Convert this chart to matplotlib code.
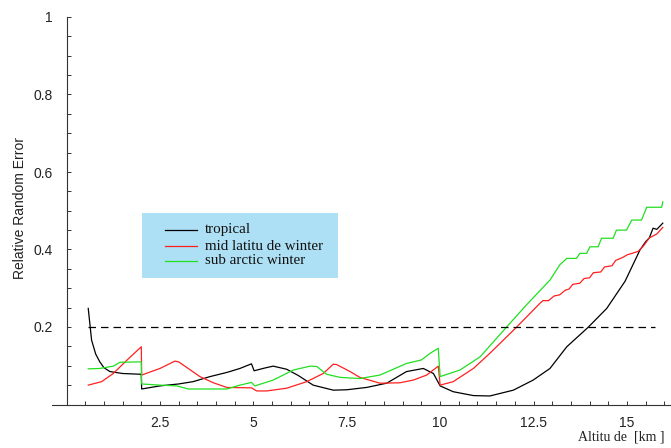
import numpy as np
import matplotlib
matplotlib.use("Agg")
import matplotlib.pyplot as plt
from matplotlib.patches import Rectangle
from matplotlib.lines import Line2D
from matplotlib.ticker import MultipleLocator, FixedLocator

# ========= Data =========
labels = ["tropical", "mid latitu de winter", "sub arctic winter"]
colors = ["#000000", "#ff2020", "#20e020"]

tropical_x = [0.58, 0.67, 0.78, 0.89, 1.0, 1.16, 1.5, 2.0, 2.01, 2.5, 3.0, 3.39, 3.84, 4.3,
              4.64, 4.95, 5.02, 5.3, 5.53, 5.89, 6.2, 6.6, 7.14, 7.5, 8.03, 8.57, 9.1,
              9.55, 9.82, 10.0, 10.35, 10.89, 11.33, 11.96, 12.49, 12.94, 13.39, 13.96,
              14.46, 14.95, 15.35, 15.5, 15.6, 15.7, 15.8, 15.96]
tropical_y = [0.248, 0.166, 0.13, 0.11, 0.095, 0.085, 0.08, 0.078, 0.04, 0.048, 0.053, 0.059,
              0.072, 0.083, 0.093, 0.105, 0.087, 0.094, 0.099, 0.091, 0.075, 0.05, 0.037,
              0.038, 0.044, 0.055, 0.085, 0.093, 0.08, 0.048, 0.033, 0.023, 0.022, 0.037,
              0.063, 0.093, 0.149, 0.199, 0.248, 0.318, 0.399, 0.42, 0.43, 0.455, 0.452, 0.468]

midlat_x = [0.58, 0.94, 1.25, 1.6, 2.0, 2.01, 2.5, 2.9, 3.0, 3.57, 3.93, 4.29, 4.95, 5.09,
            5.36, 5.89, 6.43, 6.87, 7.14, 7.23, 7.59, 7.85, 8.39, 8.92, 9.28, 9.64, 9.95,
            10.0, 10.35, 10.89, 11.33, 12.05, 12.67, 12.75, 12.9, 13.05, 13.2, 13.35, 13.45,
            13.55, 13.74, 13.85, 14.0, 14.1, 14.3, 14.4, 14.6, 14.7, 14.9, 15.0, 15.3,
            15.45, 15.6, 15.8, 15.96]
midlat_y = [0.05, 0.059, 0.08, 0.113, 0.149, 0.076, 0.093, 0.112, 0.11, 0.072, 0.056, 0.044,
            0.043, 0.035, 0.035, 0.042, 0.059, 0.08, 0.104, 0.103, 0.085, 0.07, 0.055, 0.056,
            0.063, 0.076, 0.099, 0.05, 0.059, 0.093, 0.132, 0.2, 0.261, 0.268, 0.268, 0.28,
            0.283, 0.295, 0.298, 0.31, 0.313, 0.325, 0.327, 0.34, 0.342, 0.355, 0.358, 0.372,
            0.38, 0.386, 0.395, 0.41, 0.43, 0.44, 0.457]

subarc_x = [0.58, 0.89, 1.25, 1.43, 2.0, 2.01, 2.5, 2.95, 3.26, 4.29, 4.64, 4.95, 5.04, 5.53,
            6.07, 6.52, 6.7, 6.96, 7.32, 7.85, 8.39, 9.1, 9.5, 9.73, 9.95, 10.0, 10.53,
            11.07, 11.78, 12.31, 12.94, 13.2, 13.39, 13.65, 13.74, 13.92, 14.01, 14.23,
            14.32, 14.63, 14.72, 14.99, 15.13, 15.39, 15.53, 15.93, 15.96]
subarc_y = [0.092, 0.093, 0.099, 0.109, 0.11, 0.053, 0.05, 0.048, 0.04, 0.04, 0.05, 0.057,
            0.048, 0.063, 0.089, 0.099, 0.098, 0.078, 0.07, 0.067, 0.076, 0.106, 0.115,
            0.132, 0.145, 0.072, 0.089, 0.123, 0.2, 0.257, 0.321, 0.36, 0.377, 0.377, 0.39,
            0.39, 0.407, 0.407, 0.429, 0.429, 0.45, 0.45, 0.476, 0.476, 0.509, 0.509, 0.523]

threshold = 0.2
threshold_span = [0.58, 15.75]

series = [(tropical_x, tropical_y), (midlat_x, midlat_y), (subarc_x, subarc_y)]

# ========= Figure =========
W, H = 671, 448
fig = plt.figure(figsize=(W / 100, H / 100), dpi=100)
ax = fig.add_axes([52 / W, (H - 404.5) / H, (W - 52) / W, (404.5 - 17) / H])

for (xs, ys), c, lab in zip(series, colors, labels):
    ax.plot(xs, ys, color=c, lw=0.9, label=lab)

ax.plot(threshold_span, [threshold, threshold], color="black", lw=0.9, dashes=(6, 4))

ax.set_xlim(-0.39, 16.18)
ax.set_ylim(0, 1.0)
for s in ["top", "right"]:
    ax.spines[s].set_visible(False)
ax.spines["left"].set_position(("data", 0))
ax.spines["left"].set_color("#333333")
ax.spines["bottom"].set_color("#333333")

ax.xaxis.set_major_locator(FixedLocator([2.5, 5, 7.5, 10, 12.5, 15]))
ax.xaxis.set_minor_locator(FixedLocator(np.arange(0.5, 16.01, 0.5)))
ax.set_xticklabels(["2.5", "5", "7.5", "10", "12.5", "15"])
ax.yaxis.set_major_locator(FixedLocator([0.2, 0.4, 0.6, 0.8, 1.0]))
ax.yaxis.set_minor_locator(MultipleLocator(0.05))
ax.set_yticklabels(["0.2", "0.4", "0.6", "0.8", "1"])
ax.tick_params(which="both", direction="in", length=3, width=0.7, color="#333333")
ax.tick_params(axis="both", labelsize=10, labelcolor="#222222")
ax.tick_params(axis="x", pad=8)
ax.tick_params(axis="y", pad=10)
for t in ax.get_xticklabels() + ax.get_yticklabels():
    t.set_fontfamily("Liberation Sans")

fig.text(20 / W, 1 - 208 / H, "Relative Random Error", rotation=90, ha="center", va="center",
         fontsize=10, family="Liberation Sans", color="#222222")
fig.text(621 / W, 1 - 437 / H, "Altitu de  [km ]", ha="center", va="center",
         fontsize=10, family="Liberation Serif", color="#222222")

# ========= Legend box (drawn by hand) =========
def fx(px):
    return px / W

def fy(py):
    return 1 - py / H

fig.patches.append(Rectangle((fx(142), fy(278)), (338 - 142) / W, (278 - 213) / H,
                             transform=fig.transFigure, facecolor="#aee0f5",
                             edgecolor="none", zorder=3))
rows = [230, 246, 261]
for py, c, lab in zip(rows, colors, labels):
    fig.add_artist(Line2D([fx(165), fx(197)], [fy(py), fy(py)], color=c, lw=0.9,
                          transform=fig.transFigure, zorder=4))
    fig.text(fx(205), fy(py), lab, ha="left", va="center", fontsize=10.8,
             family="Liberation Serif", color="#111111", zorder=4)

fig.savefig("out.png", dpi=100)
